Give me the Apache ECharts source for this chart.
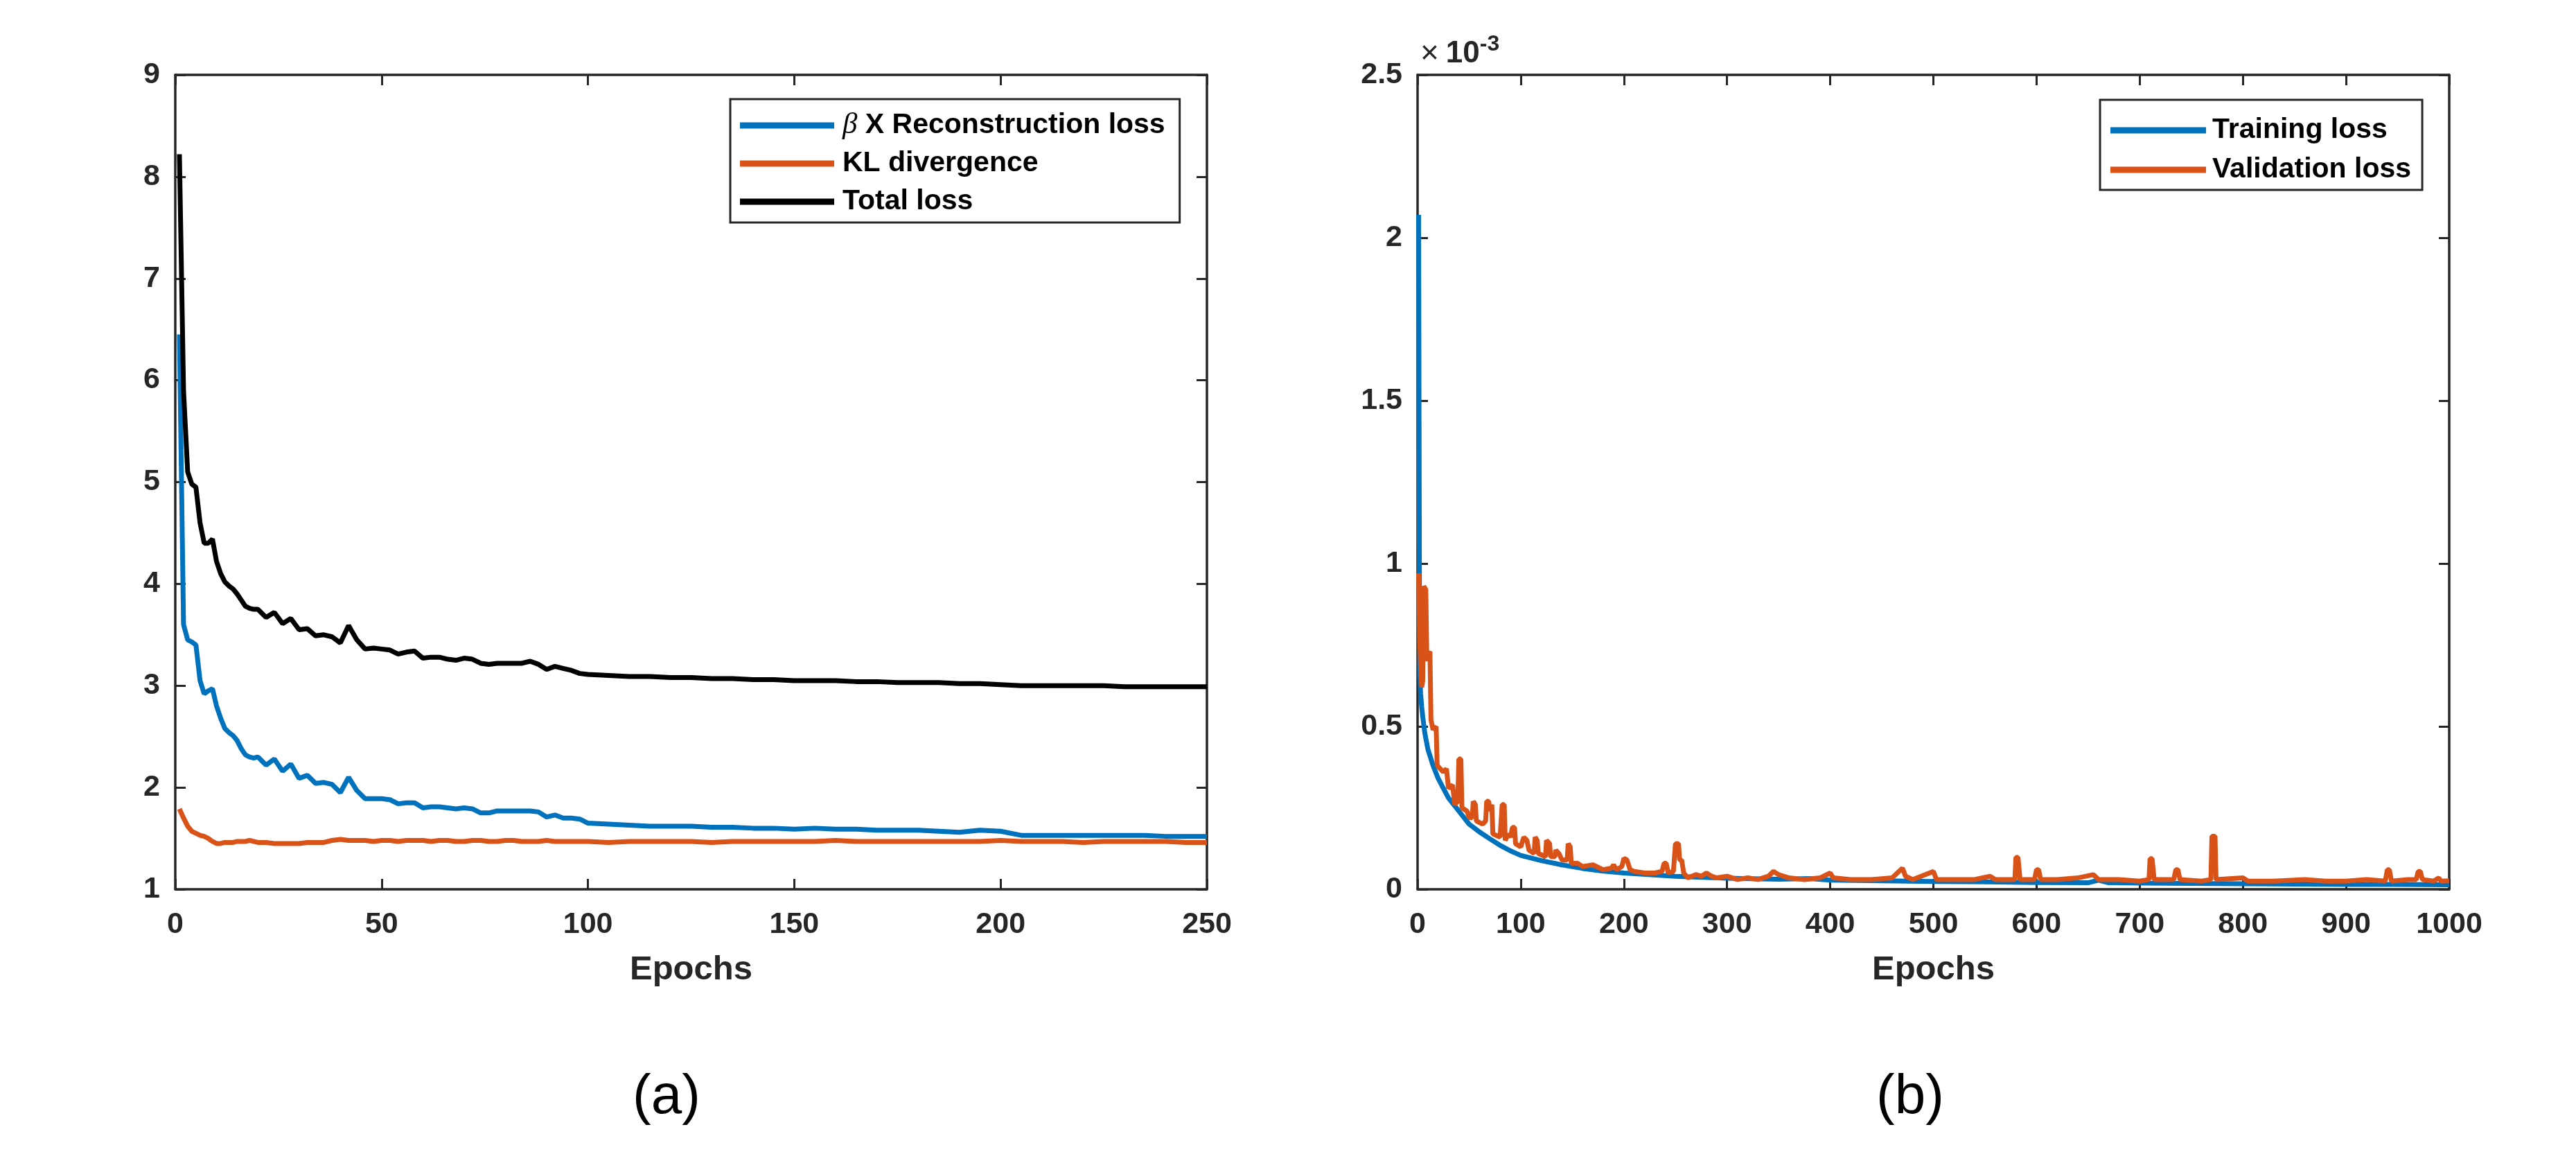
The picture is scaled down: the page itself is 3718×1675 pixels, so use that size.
<!DOCTYPE html>
<html><head><meta charset="utf-8">
<script src="https://cdn.jsdelivr.net/npm/echarts@6/dist/echarts.min.js"></script>
<style>html,body{margin:0;padding:0;background:#fff}#c{width:3718px;height:1675px}</style>
</head><body><div id="c"></div>
<script>
// ---------- Panel (a) data ----------
const epochsA = [1,2,3,4,5,6,7,8,9,10,11,12,13,14,15,16,17,18,19,20,
  22,24,26,28,30,32,34,36,38,40,42,44,46,48,50,52,54,56,58,60,
  62,64,66,68,70,72,74,76,78,80,82,84,86,88,90,92,94,96,98,100,
  105,110,115,120,125,130,135,140,145,150,155,160,165,170,175,180,185,190,195,200,
  205,210,215,220,225,230,235,240,245,250];
const reconLoss = [6.45,3.60,3.45,3.43,3.40,3.05,2.92,2.95,2.97,2.80,
  2.68,2.58,2.54,2.51,2.46,2.38,2.32,2.30,2.29,2.30,
  2.22,2.28,2.16,2.23,2.09,2.12,2.04,2.05,2.03,1.95,
  2.10,1.97,1.89,1.89,1.89,1.88,1.84,1.85,1.85,1.80,
  1.81,1.81,1.80,1.79,1.80,1.79,1.75,1.75,1.77,1.77,
  1.77,1.77,1.77,1.76,1.71,1.73,1.70,1.70,1.69,1.65,
  1.64,1.63,1.62,1.62,1.62,1.61,1.61,1.60,1.60,1.59,
  1.60,1.59,1.59,1.58,1.58,1.58,1.57,1.56,1.58,1.57,
  1.53,1.53,1.53,1.53,1.53,1.53,1.53,1.52,1.52,1.52];
const klDiv = [1.79,1.70,1.62,1.57,1.55,1.53,1.52,1.50,1.47,1.45,
  1.45,1.46,1.46,1.46,1.47,1.47,1.47,1.48,1.47,1.46,
  1.46,1.45,1.45,1.45,1.45,1.46,1.46,1.46,1.48,1.49,
  1.48,1.48,1.48,1.47,1.48,1.48,1.47,1.48,1.48,1.48,
  1.47,1.48,1.48,1.47,1.47,1.48,1.48,1.47,1.47,1.48,
  1.48,1.47,1.47,1.47,1.48,1.47,1.47,1.47,1.47,1.47,
  1.46,1.47,1.47,1.47,1.47,1.46,1.47,1.47,1.47,1.47,
  1.47,1.48,1.47,1.47,1.47,1.47,1.47,1.47,1.47,1.48,
  1.47,1.47,1.47,1.46,1.47,1.47,1.47,1.47,1.46,1.46];
const totalLoss = [8.22,5.90,5.10,4.98,4.95,4.60,4.40,4.40,4.44,4.22,
  4.10,4.02,3.98,3.95,3.90,3.84,3.78,3.76,3.75,3.75,
  3.67,3.72,3.61,3.66,3.55,3.56,3.49,3.50,3.48,3.42,
  3.59,3.45,3.36,3.37,3.36,3.35,3.31,3.33,3.34,3.27,
  3.28,3.28,3.26,3.25,3.27,3.26,3.22,3.21,3.22,3.22,
  3.22,3.22,3.24,3.21,3.16,3.19,3.17,3.15,3.12,3.11,
  3.10,3.09,3.09,3.08,3.08,3.07,3.07,3.06,3.06,3.05,
  3.05,3.05,3.04,3.04,3.03,3.03,3.03,3.02,3.02,3.01,
  3.00,3.00,3.00,3.00,3.00,2.99,2.99,2.99,2.99,2.99];
const xTicksA = [0,50,100,150,200,250];
const yTicksA = [1,2,3,4,5,6,7,8,9];

// ---------- Panel (b) data (values in units of 10^-3) ----------
const trainEpochs = [1,2,3,4,5,7,10,15,20,25,30,40,50,60,70,80,90,100,120,140,160,180,200,250,300,350,380,400,450,500,550,600,650,660,670,700,750,800,850,900,950,1000];
const trainLoss = [2.07,0.66,0.60,0.56,0.53,0.48,0.43,0.38,0.34,0.31,0.28,0.24,0.20,0.176,0.155,0.135,0.118,0.104,0.088,0.075,0.064,0.056,0.050,0.040,0.034,0.031,0.033,0.028,0.026,0.024,0.023,0.021,0.020,0.028,0.020,0.019,0.018,0.017,0.016,0.015,0.015,0.014];
const valEpochs = [1,2,3,4,5,6,8,9,10,12,
  13,15,18,19,22,25,28,30,34,36,
  39,40,42,43,48,50,53,54,56,57,
  63,66,67,69,70,72,73,80,82,84,
  85,88,90,92,94,95,100,103,106,108,
  113,114,116,117,124,125,128,129,133,134,
  137,140,145,146,148,149,155,160,170,180,
  188,190,193,198,200,203,206,210,220,230,
  237,239,241,243,248,250,253,254,256,258,
  262,270,275,280,285,290,300,310,320,330,
  340,345,350,360,375,390,400,403,420,440,
  460,470,473,480,500,503,520,540,555,560,
  579,580,582,584,598,600,602,604,620,640,
  655,660,680,700,709,710,712,714,733,735,
  737,739,760,769,770,773,774,800,805,830,
  860,880,900,920,938,940,942,944,960,968,
  970,972,974,985,990,992,1000];
const valLoss = [0.97,0.78,0.68,0.62,0.64,0.93,0.92,0.70,0.72,0.73,
  0.52,0.49,0.50,0.38,0.37,0.36,0.37,0.31,0.32,0.26,
  0.27,0.40,0.40,0.25,0.24,0.22,0.22,0.27,0.26,0.21,
  0.20,0.21,0.27,0.27,0.24,0.26,0.17,0.16,0.26,0.26,
  0.15,0.17,0.16,0.19,0.19,0.14,0.13,0.16,0.15,0.12,
  0.11,0.16,0.15,0.11,0.10,0.15,0.14,0.10,0.10,0.12,
  0.11,0.09,0.09,0.14,0.13,0.08,0.08,0.07,0.075,0.06,
  0.065,0.075,0.06,0.07,0.095,0.09,0.06,0.055,0.05,0.05,
  0.055,0.08,0.08,0.05,0.055,0.14,0.14,0.09,0.09,0.05,
  0.035,0.045,0.04,0.05,0.04,0.035,0.04,0.03,0.035,0.03,
  0.04,0.055,0.045,0.035,0.03,0.035,0.05,0.035,0.03,0.03,
  0.035,0.065,0.04,0.03,0.055,0.03,0.03,0.03,0.04,0.03,
  0.03,0.098,0.098,0.03,0.03,0.06,0.06,0.03,0.03,0.035,
  0.045,0.03,0.03,0.025,0.03,0.094,0.094,0.03,0.03,0.06,
  0.06,0.03,0.025,0.03,0.163,0.163,0.03,0.035,0.025,0.025,
  0.03,0.025,0.025,0.03,0.025,0.06,0.06,0.025,0.03,0.03,
  0.055,0.055,0.03,0.025,0.035,0.025,0.026];
const xTicksB = [0,100,200,300,400,500,600,700,800,900,1000];
const yTicksB = [0,0.5,1,1.5,2,2.5];

const NAME_R = 'β X Reconstruction loss';
const NAME_KL = 'KL divergence';
const NAME_T = 'Total loss';
const NAME_TR = 'Training loss';
const NAME_VA = 'Validation loss';

const FONT = "'Liberation Sans', Arial, Helvetica, sans-serif";
const AX = '#262626';
const BLUE = '#0072BD', ORANGE = '#D95319', BLACK = '#000000';

function zip(xs, ys) { return xs.map((x, i) => [x, ys[i]]); }

function axis(kind, gridIndex, position, ticks, labels, extra) {
  const o = {
    type: 'value', gridIndex, position,
    min: ticks[0], max: ticks[ticks.length - 1], interval: ticks[1] - ticks[0],
    axisLine: { show: true, onZero: false, lineStyle: { color: AX, width: 3.5 } },
    axisTick: { show: true, inside: true, length: 15, lineStyle: { color: AX, width: 3 } },
    splitLine: { show: false },
    axisLabel: {
      show: labels, color: AX, fontSize: 43, fontWeight: 'bold', fontFamily: FONT,
      margin: kind === 'x' ? 30 : 22, showMinLabel: true, showMaxLabel: true,
      formatter: v => String(v)
    }
  };
  return Object.assign(o, extra || {});
}

const xName = {
  name: 'Epochs', nameLocation: 'middle', nameGap: 92,
  nameTextStyle: { fontSize: 49, fontWeight: 'bold', color: AX, fontFamily: FONT }
};

function line(name, data, color, xi, yi, z) {
  return {
    name, type: 'line', data, xAxisIndex: xi, yAxisIndex: yi, color,
    showSymbol: false, symbol: 'none', z: z || 2,
    lineStyle: { width: 7, color }, emphasis: { disabled: true }
  };
}

const legendText = { fontSize: 41, fontWeight: 'bold', color: '#000', fontFamily: FONT, lineHeight: 44, padding: [0, 0, 0, 7] };

const option = {
  animation: false,
  backgroundColor: '#ffffff',
  title: [
    { text: '(a)', left: 962, top: 1544, textAlign: 'center', padding: 0,
      textStyle: { fontSize: 80, fontWeight: 'normal', color: '#000', fontFamily: FONT } },
    { text: '(b)', left: 2757, top: 1544, textAlign: 'center', padding: 0,
      textStyle: { fontSize: 80, fontWeight: 'normal', color: '#000', fontFamily: FONT } }
  ],
  grid: [
    { left: 253, top: 108, width: 1489, height: 1175 },
    { left: 2046, top: 108, width: 1489, height: 1175 }
  ],
  xAxis: [
    axis('x', 0, 'bottom', xTicksA, true, xName),
    axis('x', 0, 'top', xTicksA, false),
    axis('x', 1, 'bottom', xTicksB, true, xName),
    axis('x', 1, 'top', xTicksB, false)
  ],
  yAxis: [
    axis('y', 0, 'left', yTicksA, true),
    axis('y', 0, 'right', yTicksA, false),
    axis('y', 1, 'left', yTicksB, true, {
      name: '{x|×}{t|10}{s|-3}', nameLocation: 'end', nameGap: 0,
      nameTextStyle: {
        align: 'left', verticalAlign: 'bottom', color: AX, fontFamily: FONT,
        rich: {
          x: { fontSize: 46, fontWeight: 'normal', color: AX, fontFamily: FONT, lineHeight: 60, padding: [0, 10, 0, 4] },
          t: { fontSize: 44, fontWeight: 'bold', color: AX, fontFamily: FONT, lineHeight: 60 },
          s: { fontSize: 32, fontWeight: 'bold', color: AX, fontFamily: FONT, lineHeight: 24, verticalAlign: 'top' }
        }
      }
    }),
    axis('y', 1, 'right', yTicksB, false)
  ],
  legend: [
    {
      data: [NAME_R, NAME_KL, NAME_T], orient: 'vertical', left: 1054, top: 143,
      padding: [16, 21, 8, 14], itemGap: 11, itemWidth: 136, itemHeight: 9, icon: 'rect',
      borderColor: AX, borderWidth: 3, backgroundColor: '#fff', selectedMode: false,
      textStyle: Object.assign({}, legendText, {
        rich: { b: { fontStyle: 'italic', fontWeight: 'normal', fontSize: 43, fontFamily: "'Liberation Serif', serif", color: '#000' } }
      }),
      formatter: n => n === NAME_R ? '{b|β} X Reconstruction loss' : n
    },
    {
      data: [NAME_TR, NAME_VA], orient: 'vertical', left: 3031, top: 144,
      padding: [22, 16, 7, 15], itemGap: 13, itemWidth: 138, itemHeight: 9, icon: 'rect',
      borderColor: AX, borderWidth: 3, backgroundColor: '#fff', selectedMode: false,
      textStyle: Object.assign({}, legendText, { padding: [0, 0, 0, 4] })
    }
  ],
  series: [
    line(NAME_R, zip(epochsA, reconLoss), BLUE, 0, 0, 3),
    line(NAME_KL, zip(epochsA, klDiv), ORANGE, 0, 0, 3),
    line(NAME_T, zip(epochsA, totalLoss), BLACK, 0, 0, 4),
    line(NAME_TR, zip(trainEpochs, trainLoss), BLUE, 2, 2, 3),
    line(NAME_VA, zip(valEpochs, valLoss), ORANGE, 2, 2, 4)
  ]
};

const chart = echarts.init(document.getElementById('c'), null, { renderer: 'canvas' });
chart.setOption(option);
</script>
</body></html>
